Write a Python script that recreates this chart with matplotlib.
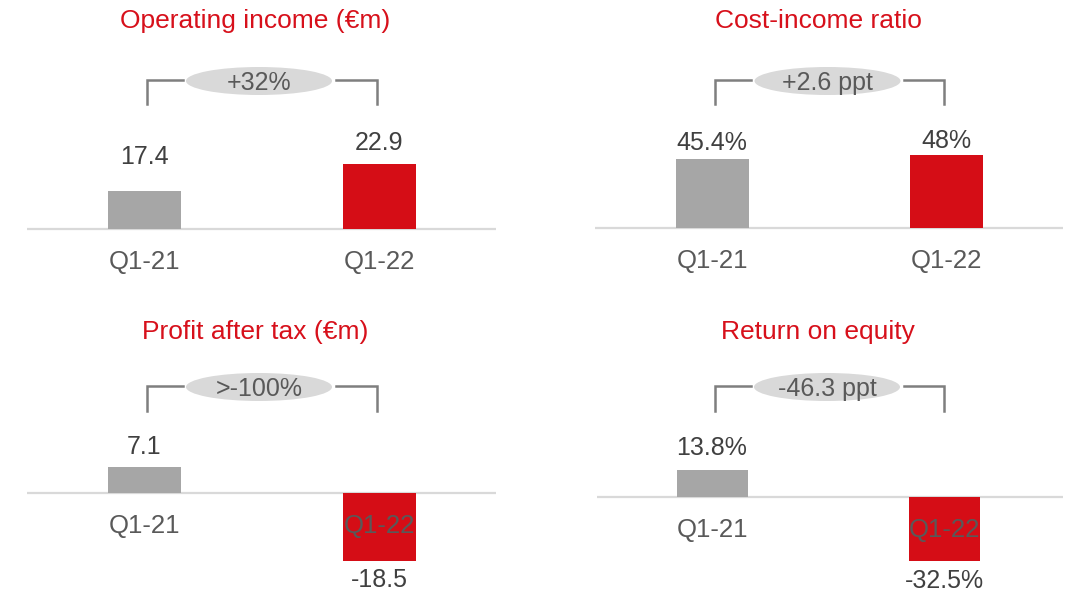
import matplotlib
matplotlib.use('Agg')
import matplotlib.pyplot as plt
from matplotlib.patches import Ellipse
from matplotlib.lines import Line2D

######### Data #########

periods = ['Q1-21', 'Q1-22']
titles = ['Operating income (€m)', 'Cost-income ratio',
          'Profit after tax (€m)', 'Return on equity']
operating_income = [17.4, 22.9]
cost_income_ratio = [45.4, 48.0]
profit_after_tax = [7.1, -18.5]
return_on_equity = [13.8, -32.5]
changes = ['+32%', '+2.6 ppt', '>-100%', '-46.3 ppt']
units = ['', '%', '', '%']

######### Style #########

W, H = 1069, 592
RED = '#D50D16'
TITLE_RED = '#D7101B'
GREY_BAR = '#A6A6A6'
BASE_LINE = '#D9D9D9'
BUBBLE = '#D9D9D9'
BRACKET = '#7F7F7F'
VALUE_TXT = '#404040'
LABEL_TXT = '#595959'
FS_VALUE = 18
FS_LABEL = 18.5
FS_TITLE = 19

plt.rcParams['font.family'] = ['Liberation Sans', 'DejaVu Sans']

# pixel layout of each panel (origin top-left)
# c0/c1 = bar centres, base = baseline, sy = px per unit, floor = value at baseline
panels = [
    dict(left=27, right=496, c0=144, c1=379, base=229, top=0, bottom=296, sy=4.91, floor=9.66,
         bar_w=73, title_x=255, title_y=28, br_l=147, br_r=377, br_top=80, br_bot=104,
         ell_x=259, ell_y=81, gaps=[27, 14]),
    dict(left=595, right=1063, c0=712, c1=946, base=228, top=0, bottom=296, sy=1.53, floor=0,
         bar_w=73, title_x=818, title_y=28, br_l=715, br_r=944, br_top=80, br_bot=104,
         ell_x=827.5, ell_y=81, gaps=[9, 7]),
    dict(left=27, right=496, c0=144, c1=379, base=493, top=296, bottom=592, sy=3.7, floor=0,
         bar_w=73, title_x=255, title_y=339, br_l=147, br_r=377, br_top=386, br_bot=411,
         ell_x=259, ell_y=387, gaps=[13, 7]),
    dict(left=597, right=1063, c0=712, c1=944, base=497, top=296, bottom=592, sy=1.96, floor=0,
         bar_w=71, title_x=818, title_y=339, br_l=715, br_r=944, br_top=386, br_bot=411,
         ell_x=827, ell_y=387, gaps=[15, 8]),
]
series = [operating_income, cost_income_ratio, profit_after_tax, return_on_equity]

ELL_W, ELL_H = 146, 28


def fx(px):
    return px / W


def fy(py):
    return 1 - py / H


fig = plt.figure(figsize=(W / 100, H / 100), dpi=100)

for p, vals, title, change, unit in zip(panels, series, titles, changes, units):
    ax = fig.add_axes([fx(p['left']), fy(p['bottom']),
                       (p['right'] - p['left']) / W, (p['bottom'] - p['top']) / H])
    dx = p['c1'] - p['c0']
    ax.set_xlim((p['left'] - p['c0']) / dx, (p['right'] - p['c0']) / dx)
    ax.set_ylim(p['floor'] - (p['bottom'] - p['base']) / p['sy'],
                p['floor'] + (p['base'] - p['top']) / p['sy'])
    ax.axis('off')

    x = [0, 1]
    heights = [v - p['floor'] for v in vals]
    ax.bar(x, heights, bottom=p['floor'], width=p['bar_w'] / dx, color=[GREY_BAR, RED], zorder=2)
    ax.axhline(p['floor'], color=BASE_LINE, lw=1.6, zorder=1)

    for xi, v, period, gap in zip(x, vals, periods, p['gaps']):
        label = f'{v:g}{unit}'
        if v >= 0:
            ax.annotate(label, (xi, v), xytext=(0, gap), textcoords='offset pixels',
                        ha='center', va='baseline', fontsize=FS_VALUE, color=VALUE_TXT)
        else:
            ax.annotate(label, (xi, v), xytext=(0, -gap), textcoords='offset pixels',
                        ha='center', va='top', fontsize=FS_VALUE, color=VALUE_TXT)
        ax.annotate(period, (xi, p['floor']), xytext=(0, -40), textcoords='offset pixels',
                    ha='center', va='baseline', fontsize=FS_LABEL, color=LABEL_TXT, zorder=3)

    # title
    fig.text(fx(p['title_x']), fy(p['title_y']), title, ha='center', va='baseline',
             fontsize=FS_TITLE, color=TITLE_RED)

    # bracket with change bubble
    gap = 3.5
    left_end = p['ell_x'] - ELL_W / 2 - gap
    right_start = p['ell_x'] + ELL_W / 2 + gap
    fig.add_artist(Line2D([fx(p['br_l']), fx(p['br_l']), fx(left_end)],
                          [fy(p['br_bot']), fy(p['br_top']), fy(p['br_top'])],
                          color=BRACKET, lw=1.8, solid_joinstyle='miter'))
    fig.add_artist(Line2D([fx(right_start), fx(p['br_r']), fx(p['br_r'])],
                          [fy(p['br_top']), fy(p['br_top']), fy(p['br_bot'])],
                          color=BRACKET, lw=1.8, solid_joinstyle='miter'))
    fig.add_artist(Ellipse((fx(p['ell_x']), fy(p['ell_y'])), ELL_W / W, ELL_H / H,
                           facecolor=BUBBLE, edgecolor='none', transform=fig.transFigure))
    fig.text(fx(p['ell_x']), fy(p['ell_y'] + 9), change, ha='center', va='baseline',
             fontsize=FS_VALUE, color=LABEL_TXT)

fig.savefig('out.png', dpi=100)
